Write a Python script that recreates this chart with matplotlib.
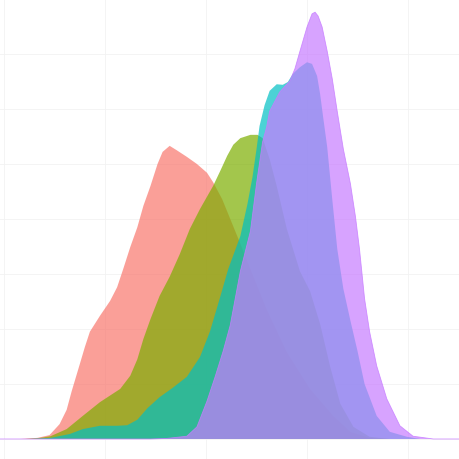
import matplotlib
matplotlib.use("Agg")
import matplotlib.pyplot as plt
import numpy as np

# density curves (x, density)
red_x = [-0.1, 0.16, 0.33, 0.45, 0.55, 0.62, 0.67, 0.75, 0.80, 0.85, 0.95, 1.05, 1.12, 1.18, 1.25,
         1.32, 1.38, 1.45, 1.52, 1.57, 1.64, 1.71, 1.81, 1.91, 2.01, 2.07, 2.16, 2.24, 2.34, 2.44,
         2.60, 2.80, 3.03, 3.26, 3.43, 3.62, 3.82, 4.6]
red_y = [0, 0, 0.002, 0.007, 0.027, 0.053, 0.087, 0.136, 0.167, 0.195, 0.224, 0.251, 0.276, 0.309, 0.349,
         0.385, 0.424, 0.460, 0.500, 0.522, 0.533, 0.525, 0.513, 0.500, 0.484, 0.467, 0.436, 0.400, 0.355, 0.309,
         0.236, 0.158, 0.091, 0.042, 0.013, 0.002, 0, 0]

green_x = [-0.1, 0.21, 0.36, 0.46, 0.62, 0.78, 0.95, 1.15, 1.25, 1.32, 1.38, 1.45, 1.54, 1.64, 1.74,
           1.84, 1.94, 2.07, 2.14, 2.21, 2.27, 2.34, 2.44, 2.51, 2.56, 2.63, 2.70, 2.80, 2.93, 3.03,
           3.13, 3.23, 3.33, 3.46, 3.62, 3.82, 4.6]
green_y = [0, 0, 0.002, 0.005, 0.018, 0.042, 0.067, 0.091, 0.115, 0.145, 0.182, 0.218, 0.260, 0.295, 0.336,
           0.382, 0.418, 0.460, 0.487, 0.515, 0.535, 0.547, 0.553, 0.553, 0.547, 0.509, 0.460, 0.382, 0.305, 0.269,
           0.209, 0.131, 0.064, 0.022, 0.004, 0, 0]

cyan_x = [-0.1, 0.26, 0.46, 0.65, 0.78, 0.95, 1.12, 1.22, 1.32, 1.42, 1.54, 1.67, 1.81, 1.94, 2.04,
          2.14, 2.22, 2.34, 2.41, 2.46, 2.50, 2.53, 2.58, 2.63, 2.70, 2.76, 2.81, 2.86, 2.93, 3.00,
          3.05, 3.10, 3.13, 3.16, 3.20, 3.25, 3.30, 3.36, 3.43, 3.50, 3.57, 3.69, 3.82, 3.99, 4.12, 4.6]
cyan_y = [0, 0, 0.002, 0.009, 0.018, 0.024, 0.024, 0.025, 0.035, 0.056, 0.076, 0.093, 0.113, 0.149, 0.196,
          0.258, 0.309, 0.369, 0.427, 0.476, 0.527, 0.569, 0.607, 0.633, 0.645, 0.644, 0.649, 0.664, 0.676, 0.685,
          0.682, 0.660, 0.627, 0.585, 0.531, 0.436, 0.345, 0.273, 0.215, 0.160, 0.100, 0.042, 0.013, 0.004, 0, 0]

purple_x = [-0.1, 1.45, 1.61, 1.81, 1.91, 2.01, 2.09, 2.17, 2.24, 2.34, 2.44, 2.50, 2.56, 2.60, 2.63,
            2.73, 2.83, 2.88, 2.93, 3.00, 3.05, 3.08, 3.11, 3.15, 3.20, 3.25, 3.30, 3.36, 3.43, 3.48,
            3.52, 3.57, 3.62, 3.69, 3.79, 3.92, 4.05, 4.25, 4.6]
purple_y = [0, 0, 0.001, 0.005, 0.022, 0.069, 0.113, 0.160, 0.207, 0.305, 0.378, 0.464, 0.540, 0.567, 0.596,
            0.631, 0.651, 0.673, 0.705, 0.749, 0.773, 0.776, 0.769, 0.749, 0.705, 0.655, 0.595, 0.527, 0.464, 0.404,
            0.345, 0.255, 0.195, 0.133, 0.073, 0.024, 0.005, 0, 0]

series = [
    (red_x, red_y, "#F8766D"),
    (green_x, green_y, "#7CAE00"),
    (cyan_x, cyan_y, "#00BFC4"),
    (purple_x, purple_y, "#C77CFF"),
]

fig = plt.figure(figsize=(4.6, 4.6), dpi=100)
ax = fig.add_axes([0, 0, 1, 1])
ax.set_facecolor("white")

for xs, ys, col in series:
    ax.fill_between(np.asarray(xs), 0, np.asarray(ys), color=col, alpha=0.7, linewidth=0)

# only the top layer's outline shows in the reference (incl. the baseline)
ax.plot(purple_x, purple_y, color="#C77CFF", alpha=0.8, linewidth=0.6)

ax.set_xlim(-0.04, 4.515)
ax.set_ylim(-0.0364, 0.8)
ax.set_xticks(np.arange(0, 5, 1))
ax.set_yticks(np.arange(0, 0.75, 0.1))
ax.grid(True, color="#F2F2F2", linewidth=0.6)
ax.set_axisbelow(True)
ax.tick_params(length=0, labelbottom=False, labelleft=False)
for spine in ax.spines.values():
    spine.set_visible(False)

fig.savefig("out.png", dpi=100)
